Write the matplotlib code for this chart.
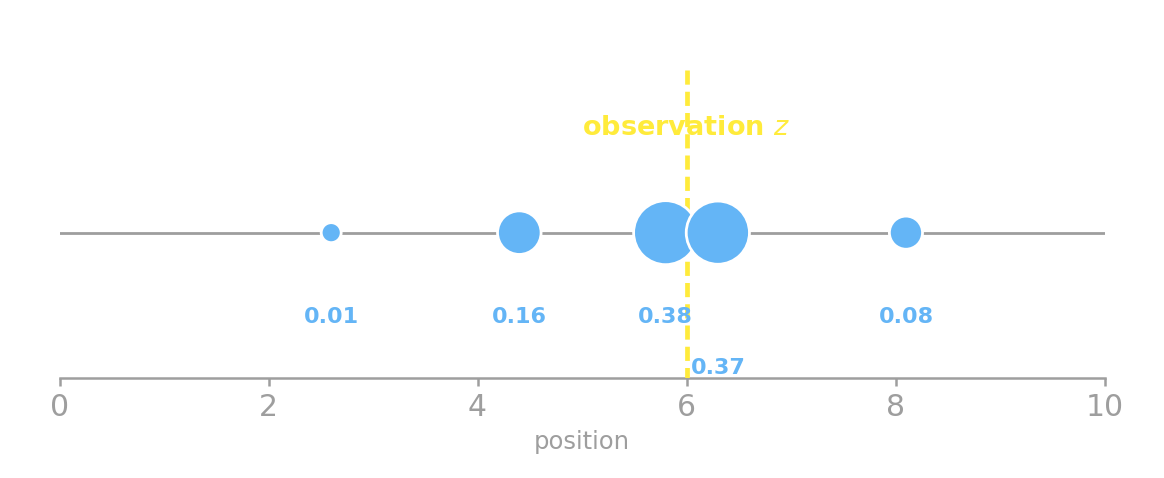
import numpy as np
import matplotlib.pyplot as plt

# particle positions and their weights
positions = [2.6, 4.4, 5.8, 6.3, 8.1]
weights = [0.01, 0.16, 0.38, 0.37, 0.08]
label_heights = [0.18, 0.18, 0.18, 0.03, 0.18]
observation = 6.0

blue = '#64B5F6'
yellow = '#FFEB3B'
gray = '#9E9E9E'

fig = plt.figure(figsize=(11.64, 4.78), dpi=100)
ax = fig.add_axes([59.5 / 1164, 100 / 478, 1045 / 1164, 338 / 478])

line_y = 0.43
ax.plot([0, 10], [line_y, line_y], color=gray, lw=2, zorder=1)

# observation marker sits under the particles
ax.text(observation, 0.74, 'observation $z$', color=yellow, fontsize=19.5,
        fontweight='bold', ha='center', va='center', zorder=2)
ax.plot([observation, observation], [0.912, 0], color=yellow, lw=3.4,
        ls=(0, (3, 1.5)), zorder=3)

sizes = 155 + 5180 * np.array(weights)
ax.scatter(positions, [line_y] * len(positions), s=sizes, color=blue,
           edgecolor='white', linewidth=2, zorder=4)

for x, w, h in zip(positions, weights, label_heights):
    ax.text(x, h, f'{w:.2f}', color=blue, fontsize=16, fontweight='bold',
            ha='center', va='center', zorder=5)

ax.set_xlim(0, 10)
ax.set_ylim(0, 1)
ax.set_xticks([0, 2, 4, 6, 8, 10])
ax.set_yticks([])
for side in ['left', 'right', 'top']:
    ax.spines[side].set_visible(False)
ax.spines['bottom'].set_color(gray)
ax.spines['bottom'].set_linewidth(1.8)
ax.tick_params(axis='x', colors=gray, labelsize=21.5, width=1.8, length=6,
               pad=4.5)
ax.set_xlabel('position', color=gray, fontsize=17.5, labelpad=6)

fig.savefig('out.png', dpi=100)
